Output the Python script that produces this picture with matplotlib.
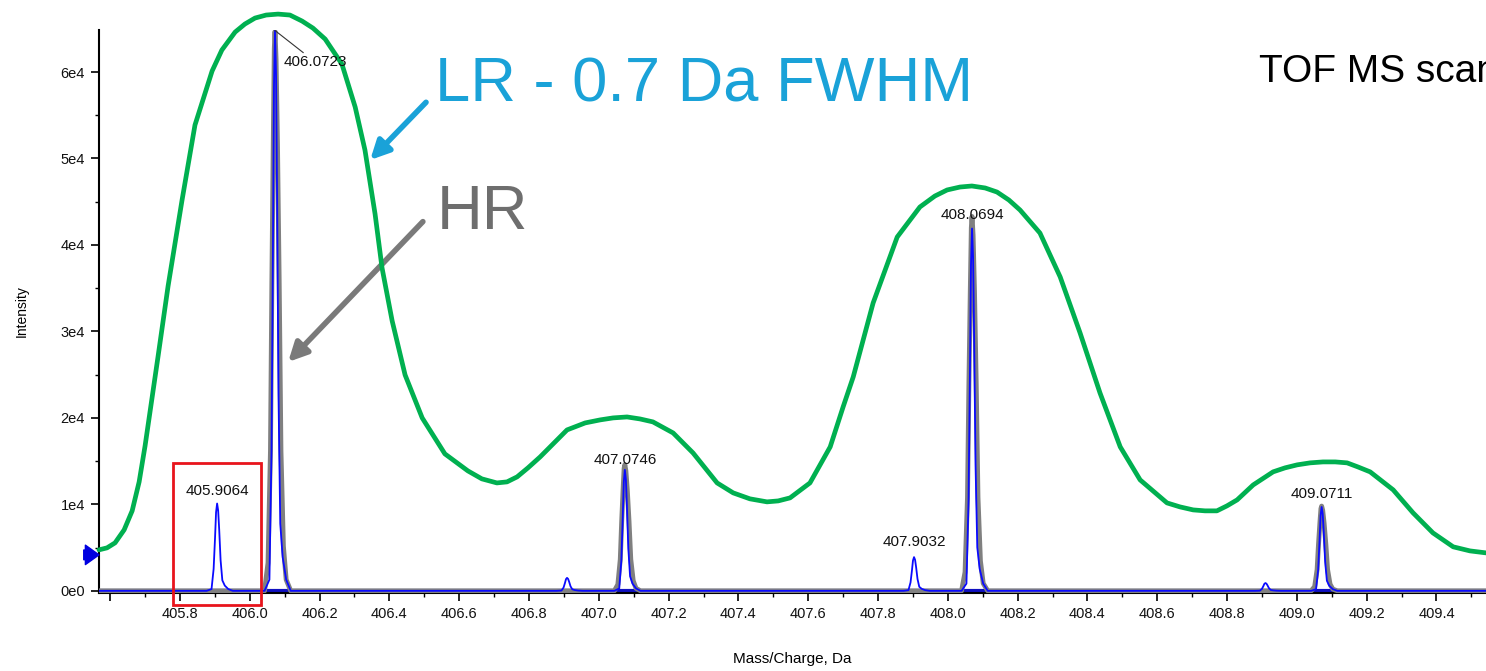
import matplotlib
matplotlib.use("Agg")
import matplotlib.pyplot as plt
from matplotlib.patches import Rectangle
from matplotlib.ticker import MultipleLocator, FuncFormatter

# centroid peaks of the high resolution TOF scan (blue trace)
blue_mz = [405.9064, 406.0723, 406.9090, 407.0746, 407.9032, 408.0694, 408.9100, 409.0711]
blue_height = [10100, 64800, 1500, 14000, 3900, 41900, 900, 9700]

# overlaid profile (grey trace)
grey_mz = [406.0723, 407.0746, 408.0694, 409.0711]
grey_height = [64700, 14600, 43300, 9800]

# peak shapes: offset from apex (Da) and fraction of apex height
blue_offsets = [-0.030, -0.016, -0.010, -0.006, -0.003, 0.0, 0.003, 0.006, 0.010, 0.015, 0.022, 0.032, 0.045]
blue_shape = [0.0, 0.02, 0.25, 0.60, 0.90, 1.0, 0.92, 0.70, 0.35, 0.12, 0.06, 0.02, 0.0]
grey_offsets = [-0.030, -0.020, -0.013, -0.009, -0.005, -0.002, 0.0, 0.003, 0.007, 0.012, 0.017, 0.024, 0.032, 0.045]
grey_shape = [0.0, 0.05, 0.25, 0.55, 0.80, 0.97, 1.0, 0.95, 0.80, 0.55, 0.25, 0.08, 0.02, 0.0]

# low resolution envelope (0.7 Da FWHM)
lr_mz = [405.568, 405.591, 405.614, 405.640, 405.663, 405.683, 405.700, 405.737,
         405.766, 405.806, 405.843, 405.892, 405.920, 405.958, 405.986, 406.015,
         406.047, 406.081, 406.115, 406.150, 406.181, 406.216, 406.264, 406.302,
         406.330, 406.359, 406.379, 406.408, 406.445, 406.494, 406.559, 406.625,
         406.665, 406.708, 406.737, 406.766, 406.797, 406.832, 406.909, 406.961,
         407.004, 407.041, 407.081, 407.118, 407.155, 407.213, 407.270, 407.339,
         407.385, 407.433, 407.482, 407.514, 407.548, 407.605, 407.663, 407.700,
         407.729, 407.786, 407.855, 407.920, 407.963, 407.998, 408.035, 408.069,
         408.107, 408.141, 408.175, 408.207, 408.264, 408.322, 408.379, 408.436,
         408.494, 408.551, 408.628, 408.665, 408.703, 408.737, 408.771, 408.800,
         408.829, 408.875, 408.932, 408.966, 409.001, 409.038, 409.075, 409.110,
         409.144, 409.175, 409.210, 409.276, 409.333, 409.390, 409.448, 409.496,
         409.542]
lr_int = [4740, 4970, 5550, 7050, 9250, 12600, 16760, 27050,
          35260, 45200, 53870, 60110, 62540, 64620, 65550, 66240,
          66590, 66700, 66590, 65890, 65080, 63810, 60920, 55950,
          50980, 43580, 37340, 31210, 24970, 20000, 15840, 13870,
          12950, 12480, 12600, 13180, 14220, 15490, 18610, 19420,
          19770, 20000, 20110, 19880, 19540, 18260, 15950, 12480,
          11330, 10640, 10290, 10400, 10750, 12480, 16650, 21270,
          24740, 33290, 40920, 44390, 45660, 46360, 46700, 46820,
          46590, 46120, 45200, 44040, 41380, 36300, 29820, 22890,
          16650, 12830, 10170, 9710, 9360, 9250, 9250, 9830,
          10520, 12250, 13760, 14220, 14570, 14800, 14910, 14910,
          14800, 14330, 13760, 11680, 9020, 6700, 5090, 4620,
          4390]

# labelled peaks and label offsets in points (dx, dy) from the apex
label_mz = [405.9064, 406.0723, 407.0746, 407.9032, 408.0694, 409.0711]
label_offsets = [(0, 4), (6.5, -23), (0, 2), (0, 6), (0, 5), (0, 4)]

x_min, x_max = 405.568, 409.542
font = "Liberation Sans"


def build_trace(centres, heights, offsets, shape):
    xs, ys = [x_min], [0]
    for c, h in zip(centres, heights):
        xs += [c + o for o in offsets]
        ys += [h * s for s in shape]
    xs.append(x_max)
    ys.append(0)
    return xs, ys


fig = plt.figure(figsize=(14.86, 6.71), dpi=100)
ax = fig.add_axes([99 / 1486, 1 - 593 / 671, 1 - 99 / 1486, (593 - 30) / 671])
ax.set_xlim(x_min, x_max)
ax.set_ylim(-250, 64860)

gx, gy = build_trace(grey_mz, grey_height, grey_offsets, grey_shape)
bx, by = build_trace(blue_mz, blue_height, blue_offsets, blue_shape)
ax.axhline(0, color="#1010c0", lw=3, zorder=2)
ax.plot(gx, gy, color="#808080", lw=3.5, zorder=3, solid_joinstyle="round")
ax.plot(bx, by, color="#0a0aff", lw=1.3, zorder=4)
ax.plot(lr_mz, lr_int, color="#00b050", lw=3.4, zorder=5, clip_on=False,
        solid_capstyle="round", solid_joinstyle="round")

# peak labels
apex = dict(zip(blue_mz, blue_height))
for mz, (dx, dy) in zip(label_mz, label_offsets):
    if dx:
        ax.annotate(f"{mz:.4f}", xy=(mz, apex[mz]), xytext=(dx, dy),
                    textcoords="offset points", ha="left", va="center",
                    fontsize=11, family=font, color="#111111", zorder=6,
                    arrowprops=dict(arrowstyle="-", color="#333333", lw=0.8,
                                    shrinkA=0, shrinkB=0))
    else:
        ax.annotate(f"{mz:.4f}", xy=(mz, apex[mz]), xytext=(dx, dy),
                    textcoords="offset points", ha="center", va="bottom",
                    fontsize=11, family=font, color="#111111", zorder=6)

# highlight box around the 405.9064 peak
ax.add_patch(Rectangle((405.780, -1620), 0.252, 16420, fill=False,
                       ec="#e8141c", lw=2, clip_on=False, zorder=7))

# resolution callouts
ax.text(406.531, 58500, "LR - 0.7 Da FWHM", color="#1aa2d8", fontsize=45.5,
        family=font, va="center", ha="left")
ax.text(406.537, 43700, "HR", color="#6e6e6e", fontsize=45.5,
        family=font, va="center", ha="left")
ax.annotate("", xy=(406.345, 49830), xytext=(406.505, 56500),
            arrowprops=dict(arrowstyle="-|>", color="#1aa2d8", lw=4,
                            mutation_scale=28, shrinkA=0, shrinkB=0),
            annotation_clip=False)
ax.annotate("", xy=(406.110, 26470), xytext=(406.496, 42700),
            arrowprops=dict(arrowstyle="-|>", color="#7a7a7a", lw=4,
                            mutation_scale=28, shrinkA=0, shrinkB=0),
            annotation_clip=False)
ax.text(408.892, 60000, "TOF MS scan", fontsize=28, family=font,
        va="center", ha="left", color="black")

# threshold marker on the intensity axis
ax.annotate("", xy=(0, 4160), xytext=(-0.011, 4160),
            xycoords=("axes fraction", "data"),
            arrowprops=dict(arrowstyle="simple,head_length=0.7,head_width=1.0,tail_width=0.5",
                            color="#0000e0", mutation_scale=14, shrinkA=0, shrinkB=0),
            annotation_clip=False)

# axes styling
for side in ("top", "right"):
    ax.spines[side].set_visible(False)
for side in ("left", "bottom"):
    ax.spines[side].set_linewidth(1.5)
ax.xaxis.set_major_locator(MultipleLocator(0.2))
ax.xaxis.set_minor_locator(MultipleLocator(0.1))
ax.yaxis.set_major_locator(MultipleLocator(10000))
ax.yaxis.set_minor_locator(MultipleLocator(5000))
ax.xaxis.set_major_formatter(FuncFormatter(lambda v, p: f"{v:.1f}" if v > 405.7 else ""))
ax.yaxis.set_major_formatter(FuncFormatter(lambda v, p: f"{int(round(v / 10000))}e{4 if v else 0}"))
ax.tick_params(which="major", length=6, width=1.2, labelsize=10.5, pad=4, labelcolor="#111111")
ax.tick_params(which="minor", length=3, width=1.0)
for lab in ax.get_xticklabels() + ax.get_yticklabels():
    lab.set_family(font)
ax.set_xlabel("Mass/Charge, Da", fontsize=11, family=font)
ax.set_ylabel("Intensity", fontsize=10, family=font)
ax.xaxis.set_label_coords(0.5, -0.105)
ax.yaxis.set_label_coords(-0.051, 0.5)

fig.savefig("out.png", dpi=100)
